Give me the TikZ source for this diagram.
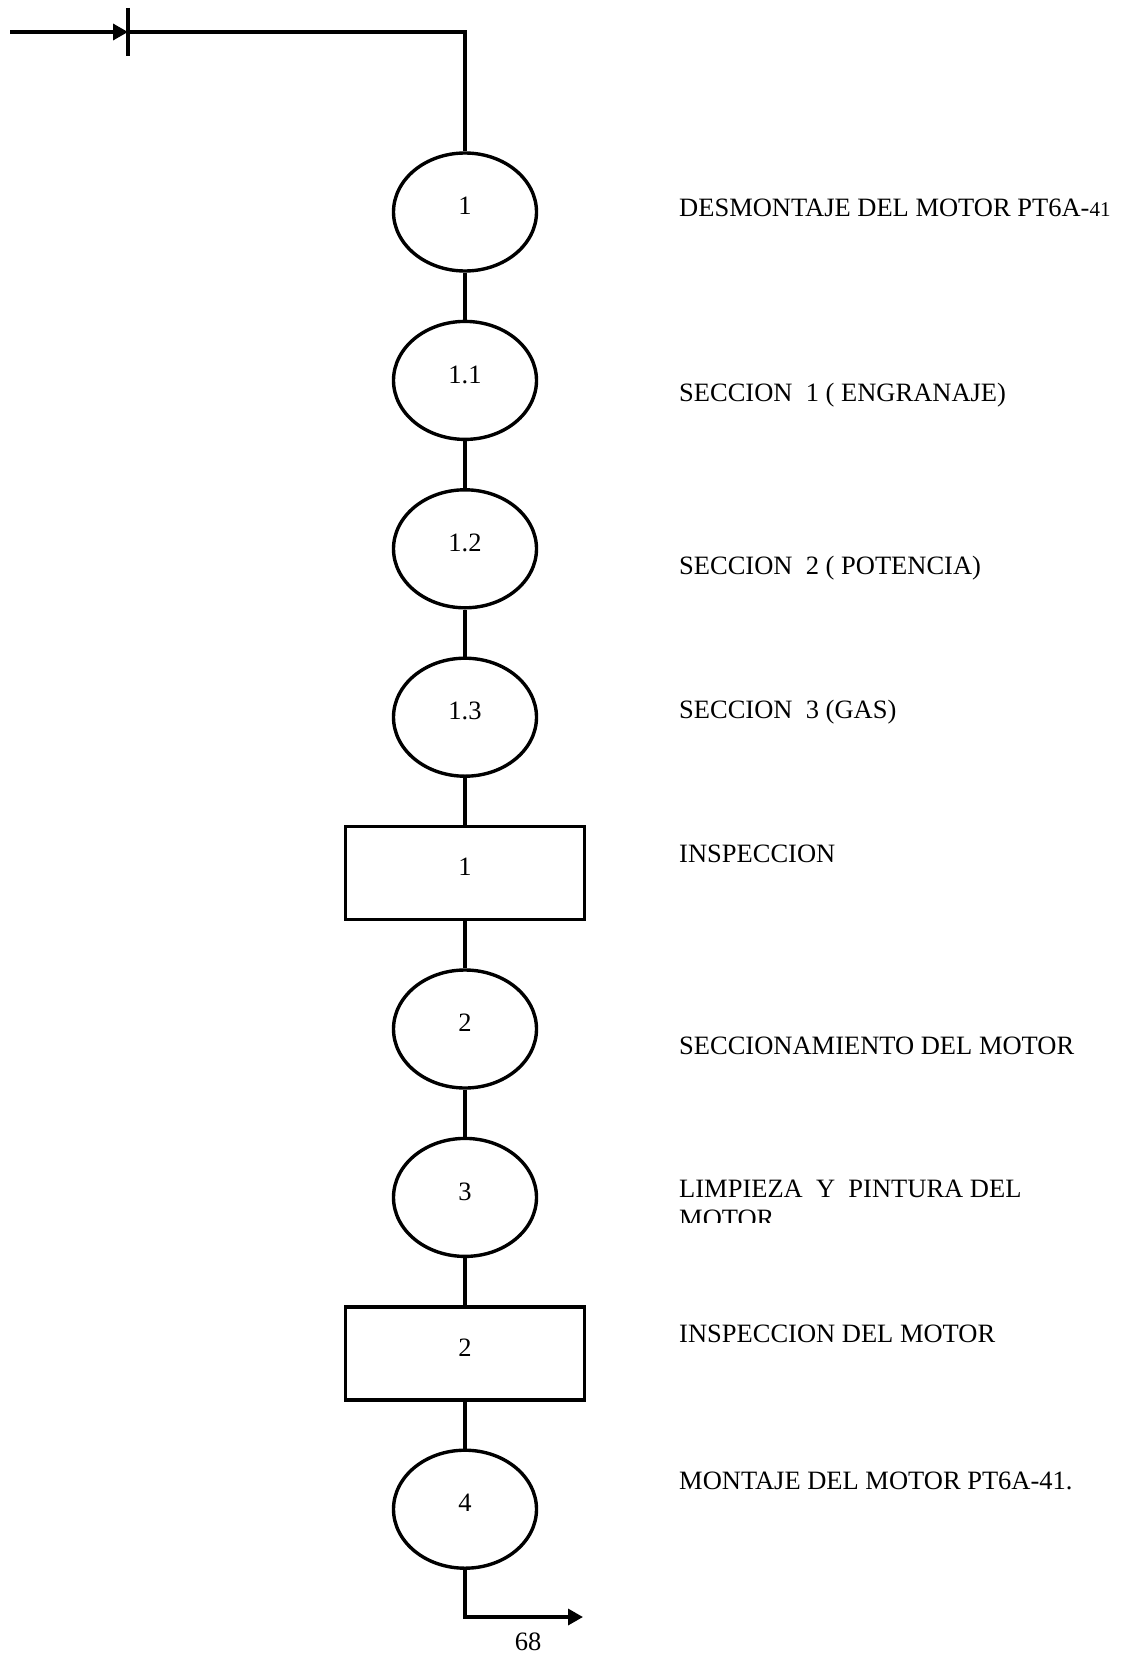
\documentclass[tikz,border=0pt]{standalone}
\usepackage{fontspec}
\setmainfont{Liberation Serif}
\usepackage{tikz}
\usetikzlibrary{
  arrows.meta, positioning, shapes.geometric
}

\begin{document}
\begin{tikzpicture}[
  x=1pt, y=-1pt,
  node distance=47pt,
  font=\fontsize{26.5}{31}\selectfont,
  oper/.style={ellipse, draw, line width=3.4pt, minimum width=143pt,
    minimum height=118pt, text depth=12pt},
  insp/.style={rectangle, draw, line width=3.4pt, minimum width=239pt,
    minimum height=93pt, text depth=12pt},
  lbl/.style={anchor=base west, inner sep=0pt},
  flow/.style={line width=3.4pt},
  tip/.style={-{Triangle[length=15pt, width=16pt]}}
]
  \useasboundingbox (0,0) rectangle (1125,1656);

  % operations and inspections
  \node[oper]                   (op1)   at (465,212) {1};
  \node[oper, below=of op1]     (op11)  {1.1};
  \node[oper, below=of op11]    (op12)  {1.2};
  \node[oper, below=of op12]    (op13)  {1.3};
  \node[insp, below=of op13]    (insp1) {1};
  \node[oper, below=of insp1]   (op2)   {2};
  \node[oper, below=of op2]     (op3)   {3};
  \node[insp, below=of op3]     (insp2) {2};
  \node[oper, below=of insp2]   (op4)   {4};

  % descriptions
  \node[lbl] (lop1)   at (679,216)  {DESMONTAJE DEL MOTOR PT6A-{\fontsize{21}{25}\selectfont 41}};
  \node[lbl] (lop11)  at (679,401)  {SECCION\ \ 1 ( ENGRANAJE)};
  \node[lbl] (lop12)  at (679,574)  {SECCION\ \ 2 ( POTENCIA)};
  \node[lbl] (lop13)  at (679,718)  {SECCION\ \ 3 (GAS)};
  \node[lbl] (linsp1) at (679,862)  {INSPECCION};
  \node[lbl] (lop2)   at (679,1054) {SECCIONAMIENTO DEL MOTOR};
  \node[lbl] (lop3)   at (679,1197) {LIMPIEZA\ \ Y\ \ PINTURA DEL};
  \begin{scope}
    \clip (670,1200) rectangle (1000,1222);
    \node[lbl] (lop3b) at (679,1227) {MOTOR};
  \end{scope}
  \node[lbl] (linsp2) at (679,1342) {INSPECCION DEL MOTOR};
  \node[lbl] (lop4)   at (679,1489) {MONTAJE DEL MOTOR PT6A-41.};

  % start and end
  \coordinate (in)     at (10,32);
  \coordinate (bar)    at (128,32);
  \coordinate (bartop) at (128,8);
  \coordinate (barbot) at (128,56);
  \coordinate (turn)   at (465,32);
  \coordinate (down)   at (465,1617);
  \coordinate (out)    at (583,1617);
  \node[inner sep=0pt, anchor=base] (pg) at (528,1650) {68};

  \draw[flow, tip] (in) -- (bar);
  \draw[flow] (bartop) -- (barbot);
  \draw[flow] (bar) -- (turn) -- (op1);
  \draw[flow] (op1) -- (op11);
  \draw[flow] (op11) -- (op12);
  \draw[flow] (op12) -- (op13);
  \draw[flow] (op13) -- (insp1);
  \draw[flow] (insp1) -- (op2);
  \draw[flow] (op2) -- (op3);
  \draw[flow] (op3) -- (insp2);
  \draw[flow] (insp2) -- (op4);
  \draw[flow, tip] (op4) -- (down) -- (out);
\end{tikzpicture}
\end{document}
